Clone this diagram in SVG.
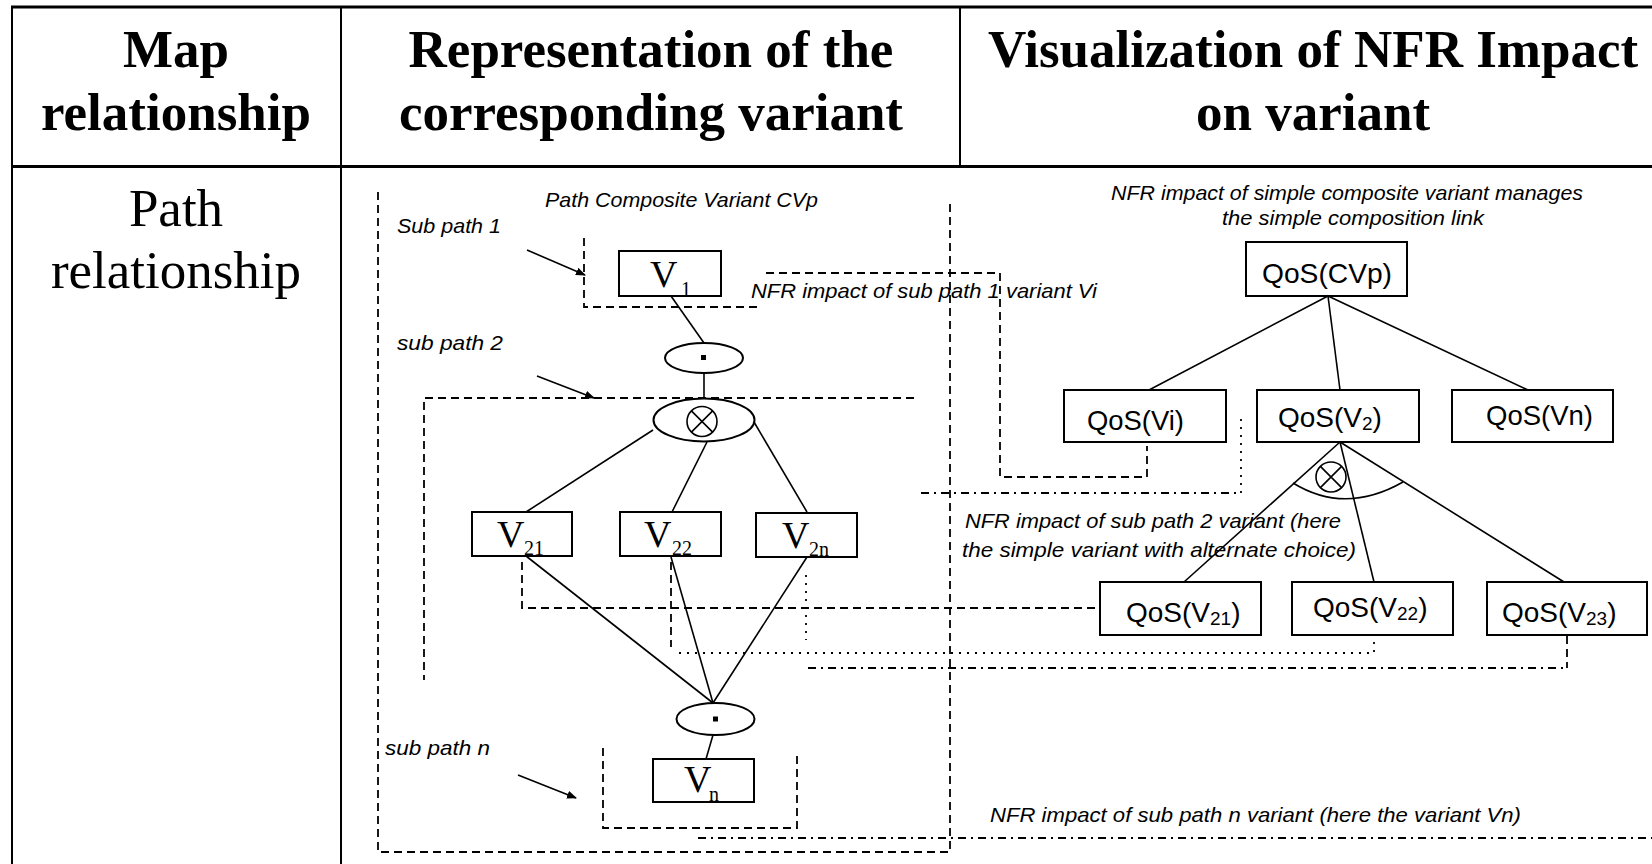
<svg xmlns="http://www.w3.org/2000/svg" width="1652" height="864" viewBox="0 0 1652 864">
<defs>
<style>
.tbl{stroke:#000;fill:none}
.hd{font-family:"Liberation Serif","Times New Roman",serif;font-weight:bold;font-size:53px;text-anchor:middle;fill:#000}
.rw{font-family:"Liberation Serif","Times New Roman",serif;font-size:53px;text-anchor:middle;fill:#000}
.box{fill:#fff;stroke:#000;stroke-width:2}
.ln{fill:none;stroke:#000;stroke-width:1.6}
.dash{fill:none;stroke:#000;stroke-width:1.8;stroke-dasharray:8 5}
.dot{fill:none;stroke:#000;stroke-width:1.8;stroke-dasharray:2 6}
.dd{fill:none;stroke:#000;stroke-width:1.8;stroke-dasharray:8 5 2 5}
.ann{font-family:"Liberation Sans",Arial,sans-serif;font-style:italic;font-size:21px;fill:#000}
.qos{font-family:"Liberation Sans",Arial,sans-serif;font-size:28px;fill:#000}
.v{font-family:"Liberation Serif","Times New Roman",serif;font-size:38px;fill:#000}
.sub{font-size:20px}
.qsub{font-size:19px}
</style>
<marker id="ah" markerWidth="10" markerHeight="8" refX="9" refY="4" orient="auto" markerUnits="userSpaceOnUse">
<path d="M0,0 L10,4 L0,8 Z" fill="#000"/>
</marker>
</defs>
<rect width="1652" height="864" fill="#fff"/>

<g id="table">
<line class="tbl" x1="11" y1="7" x2="1652" y2="7" stroke-width="3"/>
<line class="tbl" x1="11" y1="166.5" x2="1652" y2="166.5" stroke-width="3"/>
<line class="tbl" x1="12" y1="6" x2="12" y2="864" stroke-width="2"/>
<line class="tbl" x1="341" y1="6" x2="341" y2="864" stroke-width="2"/>
<line class="tbl" x1="960" y1="6" x2="960" y2="166" stroke-width="2"/>
<text class="hd" x="176" y="66.5">Map</text>
<text class="hd" x="176" y="130">relationship</text>
<text class="hd" x="651" y="66.5">Representation of the</text>
<text class="hd" x="651" y="130">corresponding variant</text>
<text class="hd" x="1313" y="66.5">Visualization of NFR Impact</text>
<text class="hd" x="1313" y="130">on variant</text>
<text class="rw" x="176" y="226">Path</text>
<text class="rw" x="176" y="288">relationship</text>
</g>

<g id="labels">
<text class="ann" x="545" y="207" textLength="273" lengthAdjust="spacingAndGlyphs">Path Composite Variant CVp</text>
<text class="ann" x="397" y="233" textLength="104" lengthAdjust="spacingAndGlyphs">Sub path 1</text>
<text class="ann" x="397" y="350" textLength="106" lengthAdjust="spacingAndGlyphs">sub path 2</text>
<text class="ann" x="385" y="755" textLength="105" lengthAdjust="spacingAndGlyphs">sub path n</text>
<text class="ann" x="751" y="298" textLength="346" lengthAdjust="spacingAndGlyphs">NFR impact of sub path 1 variant Vi</text>
<text class="ann" x="1111" y="200" textLength="472" lengthAdjust="spacingAndGlyphs">NFR impact of simple composite variant manages</text>
<text class="ann" x="1222" y="225" textLength="262" lengthAdjust="spacingAndGlyphs">the simple composition link</text>
<text class="ann" x="965" y="528" textLength="376" lengthAdjust="spacingAndGlyphs">NFR impact of sub path 2 variant (here</text>
<text class="ann" x="962" y="557" textLength="394" lengthAdjust="spacingAndGlyphs">the simple variant with alternate choice)</text>
<text class="ann" x="990" y="822" textLength="531" lengthAdjust="spacingAndGlyphs">NFR impact of sub path n variant (here the variant Vn)</text>
</g>

<g id="connectors">
<path class="dash" d="M378,192 V852 H950 V202"/>
<path class="dash" d="M584,238 V307 H761"/>
<path class="dash" d="M766,273 H1000 V477 H1147 V446"/>
<path class="dash" d="M914,398 H424 V680"/>
<path class="dd" d="M921,493 H1241"/>
<path class="dot" d="M1241,493 V417"/>
<path class="dash" d="M522,562 V608 H1100"/>
<path class="dash" d="M671,562 V647"/>
<path class="dot" d="M679,653 H1374 V640"/>
<path class="dot" d="M806,575 V640"/>
<path class="dd" d="M808,668 H1567"/>
<path class="dash" d="M1567,636 V668"/>
<path class="dash" d="M603,748 V828 H797 V753"/>
<path class="dd" d="M698,838 H1652"/>
<path class="ln" d="M527,250 L585,275" marker-end="url(#ah)"/>
<path class="ln" d="M537,376 L594,398" marker-end="url(#ah)"/>
<path class="ln" d="M518,775 L576,798" marker-end="url(#ah)"/>
<path class="ln" d="M671,296 L704,343"/>
<path class="ln" d="M704,373 V399"/>
<path class="ln" d="M653,430 L526,512"/>
<path class="ln" d="M707,442 L672,512"/>
<path class="ln" d="M754,422 L807,512"/>
<path class="ln" d="M526,556 L713,703"/>
<path class="ln" d="M671,557 L713,703"/>
<path class="ln" d="M807,557 L713,703"/>
<path class="ln" d="M713,735 L706,759"/>
<path class="ln" d="M1328,296 L1149,390"/>
<path class="ln" d="M1328,296 L1340,390"/>
<path class="ln" d="M1328,296 L1528,390"/>
<path class="ln" d="M1340,442 L1184,582"/>
<path class="ln" d="M1340,442 L1374,582"/>
<path class="ln" d="M1340,442 L1564,582"/>
<path class="ln" d="M1293,483 Q1345,515 1403,482"/>
</g>

<g id="V1">
<rect class="box" x="619" y="251" width="102" height="45"/>
<text class="v" x="650" y="287">V</text>
<text class="v sub" x="681" y="296">1</text>
</g>
<g id="and1">
<ellipse class="box" cx="704" cy="358" rx="39" ry="15"/>
<rect x="701" y="355" width="5" height="5" fill="#000"/>
</g>
<g id="xor1">
<ellipse class="box" cx="704" cy="420" rx="50.5" ry="21.5"/>
<circle class="ln" cx="702" cy="421.5" r="15"/>
<path class="ln" d="M691.4,410.9 L712.6,432.1 M712.6,410.9 L691.4,432.1"/>
</g>
<g id="V21">
<rect class="box" x="472" y="512" width="100" height="44"/>
<text class="v" x="497" y="547">V</text>
<text class="v sub" x="524" y="555">21</text>
</g>
<g id="V22">
<rect class="box" x="620" y="512" width="101" height="44"/>
<text class="v" x="644" y="547">V</text>
<text class="v sub" x="672" y="555">22</text>
</g>
<g id="V2n">
<rect class="box" x="756" y="513" width="101" height="44"/>
<text class="v" x="782" y="548">V</text>
<text class="v sub" x="809" y="556">2n</text>
</g>
<g id="and2">
<ellipse class="box" cx="715.5" cy="719" rx="39" ry="16"/>
<rect x="713" y="716.5" width="5" height="5" fill="#000"/>
</g>
<g id="Vn">
<rect class="box" x="653" y="759" width="101" height="43"/>
<text class="v" x="684" y="792">V</text>
<text class="v sub" x="709" y="801">n</text>
</g>

<g id="QoS-CVp">
<rect class="box" x="1246" y="242" width="161" height="54"/>
<text class="qos" x="1262" y="283" textLength="130" lengthAdjust="spacingAndGlyphs">QoS(CVp)</text>
</g>
<g id="QoS-Vi">
<rect class="box" x="1064" y="390" width="162" height="52"/>
<text class="qos" x="1087" y="430" textLength="97" lengthAdjust="spacingAndGlyphs">QoS(Vi)</text>
</g>
<g id="QoS-V2">
<rect class="box" x="1257" y="390" width="162" height="52"/>
<text class="qos" x="1278" y="427">QoS(V<tspan class="qsub" dy="3">2</tspan><tspan dy="-3">)</tspan></text>
</g>
<g id="QoS-Vn">
<rect class="box" x="1452" y="390" width="161" height="52"/>
<text class="qos" x="1486" y="425" textLength="107" lengthAdjust="spacingAndGlyphs">QoS(Vn)</text>
</g>
<g id="xor2">
<circle class="ln" cx="1331" cy="477" r="15"/>
<path class="ln" d="M1320.4,466.4 L1341.6,487.6 M1341.6,466.4 L1320.4,487.6"/>
</g>
<g id="QoS-V21">
<rect class="box" x="1100" y="582" width="161" height="53"/>
<text class="qos" x="1126" y="622">QoS(V<tspan class="qsub" dy="3">21</tspan><tspan dy="-3">)</tspan></text>
</g>
<g id="QoS-V22">
<rect class="box" x="1292" y="582" width="161" height="53"/>
<text class="qos" x="1313" y="617">QoS(V<tspan class="qsub" dy="3">22</tspan><tspan dy="-3">)</tspan></text>
</g>
<g id="QoS-V23">
<rect class="box" x="1487" y="582" width="160" height="53"/>
<text class="qos" x="1502" y="622">QoS(V<tspan class="qsub" dy="3">23</tspan><tspan dy="-3">)</tspan></text>
</g>
</svg>
